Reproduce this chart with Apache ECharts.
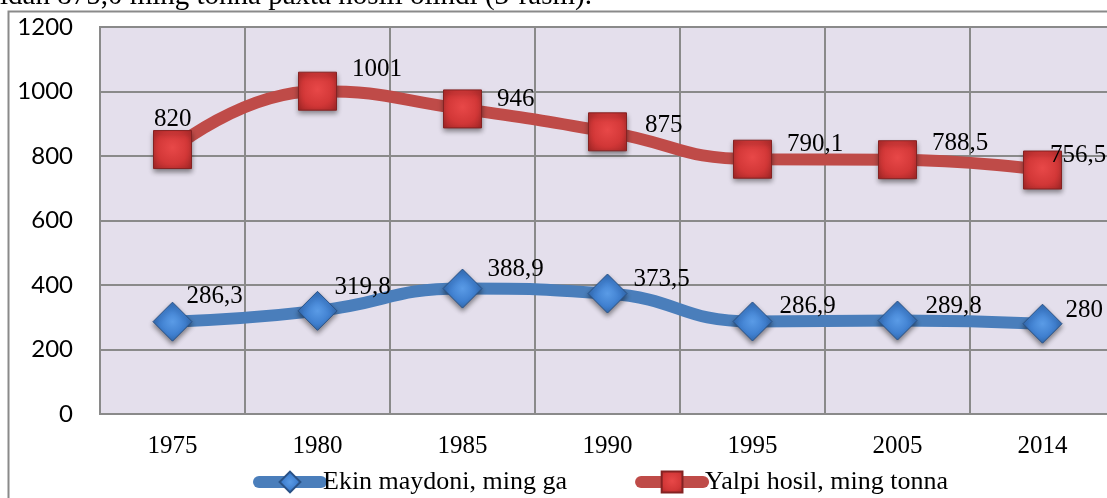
<!DOCTYPE html>
<html>
<head>
<meta charset="utf-8">
<script src="https://cdn.jsdelivr.net/npm/echarts@6/dist/echarts.min.js"></script>
<style>
  html, body { margin: 0; padding: 0; background: #ffffff; overflow: hidden; }
  #chart { width: 1130px; height: 498px; }
</style>
</head>
<body>
<div id="chart"></div>
<script>
// Cotton: sown area and gross harvest by year
const categories = ['1975', '1980', '1985', '1990', '1995', '2005', '2014'];
const ekinMaydoni = [286.3, 319.8, 388.9, 373.5, 286.9, 289.8, 280];   // ming ga
const yalpiHosil = [820, 1001, 946, 875, 790.1, 788.5, 756.5];        // ming tonna
const seriesNames = ['Ekin maydoni, ming ga', 'Yalpi hosil, ming tonna'];
const yMin = 0, yMax = 1200, yStep = 200;
const captionText = 'idan 875,0 ming tonna paxta hosili olindi (3-rasm).';

// label nudges (px) relative to the right side of each marker
const ekinLabelShift = [[-6, -25], [-3, -23], [5, -19], [6, -14], [7, -15], [8, -14], [3, -13]];
const yalpiLabelShift = [[-38, -30], [15, -22], [15, -9], [18, -6], [15, -15], [15, -16], [-12, -15]];

const serif = '"Liberation Serif", "Times New Roman", serif';
const gridGrey = '#8a8a8a';

const fmt = p => String(p.value).replace('.', ',');

function buildData(values, shifts) {
  return values.map((v, i) => ({ value: v, label: { offset: shifts[i] } }));
}

const blueMarker = {
  type: 'radial', x: 0.5, y: 0.5, r: 0.6,
  colorStops: [{ offset: 0, color: '#5a9be6' }, { offset: 0.55, color: '#3f7fcf' }, { offset: 1, color: '#2c5f9e' }]
};
const redMarker = {
  type: 'radial', x: 0.5, y: 0.45, r: 0.7,
  colorStops: [{ offset: 0, color: '#e84848' }, { offset: 0.6, color: '#d23737' }, { offset: 1, color: '#a82828' }]
};

const chart = echarts.init(document.getElementById('chart'), null, { renderer: 'canvas' });

chart.setOption({
  backgroundColor: '#ffffff',
  animation: false,
  graphic: [
    {
      type: 'rect', z: 0, silent: true,
      shape: { x: 8.5, y: 11.5, width: 1300, height: 700 },
      style: { fill: 'none', stroke: gridGrey, lineWidth: 2 }
    },
    {
      type: 'text', z: 10, silent: true,
      style: { text: captionText, x: 0, y: -3.5, font: '29px ' + serif, fill: '#000', textVerticalAlign: 'middle' }
    }
  ],
  grid: {
    left: 100, top: 27, width: 1015, height: 387,
    show: true, backgroundColor: '#e4dfec', borderColor: gridGrey, borderWidth: 2
  },
  legend: {
    left: 253, top: 469, padding: 0,
    itemWidth: 62, itemHeight: 26, itemGap: 68,
    lineStyle: { width: 12, cap: 'round' },
    textStyle: { fontFamily: serif, fontSize: 26, color: '#000', padding: [0, 0, 0, -3] },
    data: seriesNames
  },
  xAxis: {
    type: 'category',
    data: categories,
    boundaryGap: true,
    axisLine: { lineStyle: { color: gridGrey, width: 2 } },
    axisTick: { show: false },
    splitLine: { show: true, lineStyle: { color: gridGrey, width: 2 } },
    axisLabel: { fontFamily: serif, fontSize: 25, color: '#000', margin: 20 }
  },
  yAxis: {
    type: 'value',
    min: yMin, max: yMax, interval: yStep,
    axisLine: { show: true, lineStyle: { color: gridGrey, width: 2 } },
    axisTick: { show: false },
    splitLine: { show: true, lineStyle: { color: gridGrey, width: 2 } },
    axisLabel: {
      fontFamily: 'Lato, "Liberation Sans", sans-serif', fontSize: 24, color: '#000', margin: 27,
      formatter: v => String(v)
    }
  },
  series: [
    {
      name: seriesNames[0],
      type: 'line',
      smooth: 0.5,
      data: buildData(ekinMaydoni, ekinLabelShift),
      symbol: 'diamond',
      symbolSize: 39,
      lineStyle: { color: '#4a7ebb', width: 12, cap: 'round' },
      itemStyle: {
        color: blueMarker, borderColor: '#2a5286', borderWidth: 1,
        shadowColor: 'rgba(0,0,0,0.45)', shadowBlur: 5, shadowOffsetY: 3
      },
      label: {
        show: true, position: 'right', distance: 0,
        formatter: fmt, fontFamily: serif, fontSize: 25, color: '#000'
      },
      z: 3
    },
    {
      name: seriesNames[1],
      type: 'line',
      smooth: 0.5,
      data: buildData(yalpiHosil, yalpiLabelShift),
      symbol: 'rect',
      symbolSize: 38,
      lineStyle: { color: '#bf4b48', width: 12, cap: 'round' },
      itemStyle: {
        color: redMarker, borderColor: '#842222', borderWidth: 1,
        shadowColor: 'rgba(0,0,0,0.45)', shadowBlur: 5, shadowOffsetY: 3
      },
      label: {
        show: true, position: 'right', distance: 0,
        formatter: fmt, fontFamily: serif, fontSize: 25, color: '#000'
      },
      z: 3
    }
  ]
});
</script>
</body>
</html>
